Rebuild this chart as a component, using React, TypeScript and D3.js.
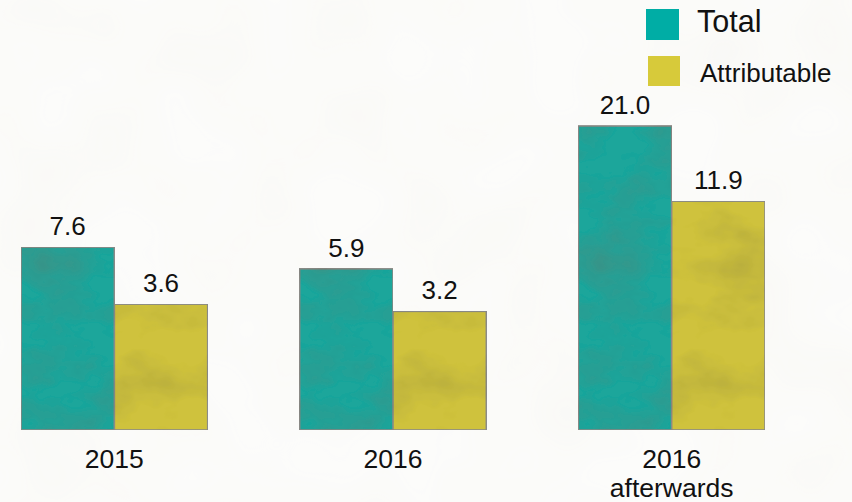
import React from "react";
import * as d3 from "d3";

// Periods on the x axis (each may span several lines)
const periods: string[][] = [["2015"], ["2016"], ["2016", "afterwards"]];
const periodKeys = ["2015", "2016", "2016 afterwards"];

// Series values per period
const seriesNames = ["Total", "Attributable"];
const totalValues = [7.6, 5.9, 21.0];
const attributableValues = [3.6, 3.2, 11.9];

const W = 852;
const H = 502;
const baseline = 430;

const barColors = ["#1ea69b", "#cfc23e"];
const legendColors = ["#00ada5", "#d7ca3a"];

export default function App() {
  const x0 = d3.scaleBand<string>().domain(periodKeys).range([21, 765]).paddingInner(0.33).paddingOuter(0);
  const x1 = d3.scaleBand<string>().domain(seriesNames).range([0, x0.bandwidth()]).padding(0);
  // Square-root value scale keeps small and large bars readable together
  const y = d3.scaleSqrt().domain([0, 24]).range([baseline, baseline - 325]);

  const rows = periodKeys.map((k, i) => ({
    key: k,
    lines: periods[i],
    values: [totalValues[i], attributableValues[i]],
  }));

  return (
    <svg width={W} height={H} style={{ position: "absolute", left: 0, top: 0 }} fontFamily="'Liberation Sans', Arial, sans-serif">
      <defs>
        <filter id="paper" x="0" y="0" width="100%" height="100%">
          <feTurbulence type="fractalNoise" baseFrequency="0.01" numOctaves="2" seed="7" result="n" />
          <feColorMatrix in="n" type="matrix" values="0 0 0 0 0.6  0 0 0 0 0.58  0 0 0 0 0.5  0.12 0 0 0 -0.04" result="tint" />
          <feComposite in="tint" in2="SourceGraphic" operator="in" result="tintIn" />
          <feMerge>
            <feMergeNode in="SourceGraphic" />
            <feMergeNode in="tintIn" />
          </feMerge>
        </filter>
        <filter id="crayon" x="0" y="0" width="100%" height="100%">
          <feTurbulence type="fractalNoise" baseFrequency="0.015 0.025" numOctaves="4" seed="3" result="n" />
          <feColorMatrix in="n" type="matrix" values="0 0 0 0 0.1  0 0 0 0 0.1  0 0 0 0 0.05  0.55 0 0 0 -0.22" result="shade" />
          <feComposite in="shade" in2="SourceGraphic" operator="in" result="shadeIn" />
          <feMerge>
            <feMergeNode in="SourceGraphic" />
            <feMergeNode in="shadeIn" />
          </feMerge>
        </filter>
      </defs>

      <rect x={0} y={0} width={W} height={H} fill="#fcfcfa" filter="url(#paper)" />

      {rows.map((r) => {
        const gx = x0(r.key)!;
        return (
          <g key={r.key} transform={`translate(${gx},0)`}>
            {r.values.map((v, j) => {
              const bx = x1(seriesNames[j])!;
              const top = y(v);
              return (
                <g key={j}>
                  <rect
                    x={bx}
                    y={top}
                    width={x1.bandwidth()}
                    height={baseline - top}
                    fill={barColors[j]}
                    stroke="#8b8b88"
                    strokeWidth={1.6}
                    filter="url(#crayon)"
                  />
                  <text x={bx + x1.bandwidth() / 2} y={top - 12} textAnchor="middle" fontSize={26} fill="#111">
                    {v.toFixed(1)}
                  </text>
                </g>
              );
            })}
            <text x={x0.bandwidth() / 2} y={468} textAnchor="middle" fontSize={26.5} fill="#111">
              {r.lines.map((ln, li) => (
                <tspan key={li} x={x0.bandwidth() / 2} dy={li === 0 ? 0 : 29}>
                  {ln}
                </tspan>
              ))}
            </text>
          </g>
        );
      })}

      {/* Legend */}
      <g>
        <rect x={646} y={9} width={33} height={31} fill={legendColors[0]} />
        <text x={697} y={32} fontSize={30.5} fill="#111">{seriesNames[0]}</text>
        <rect x={648} y={56} width={32} height={30} fill={legendColors[1]} />
        <text x={700} y={82} fontSize={26} fill="#111">{seriesNames[1]}</text>
      </g>
    </svg>
  );
}
